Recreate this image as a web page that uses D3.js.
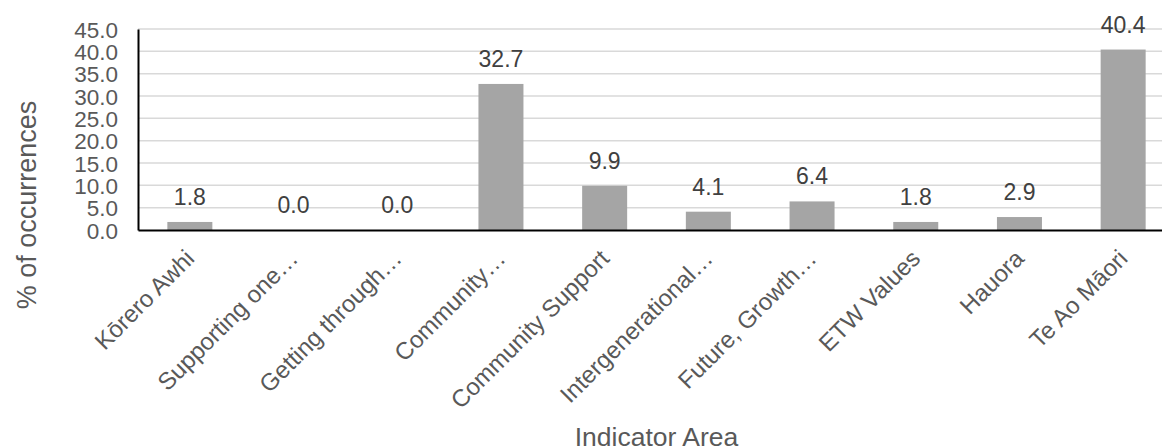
<!DOCTYPE html>
<html>
<head>
<meta charset="utf-8">
<script src="https://cdn.jsdelivr.net/npm/d3@7"></script>
<style>
  html, body { margin: 0; padding: 0; background: #fff; }
  svg { display: block; font-family: "Liberation Sans", Arial, sans-serif; }
</style>
</head>
<body>
<svg id="chart" width="1162" height="448"></svg>
<script>
// Share of occurrences by indicator area
const categories = [
  "Kōrero Awhi",
  "Supporting one…",
  "Getting through…",
  "Community…",
  "Community Support",
  "Intergenerational…",
  "Future, Growth…",
  "ETW Values",
  "Hauora",
  "Te Ao Māori"
];
const values = [1.8, 0.0, 0.0, 32.7, 9.9, 4.1, 6.4, 1.8, 2.9, 40.4];
const yTicks = [0, 5, 10, 15, 20, 25, 30, 35, 40, 45];
const yTitle = "% of occurrences";
const xTitle = "Indicator Area";

const svg = d3.select("#chart");
const plot = { left: 138, right: 1175, top: 29, bottom: 230 };

const x = d3.scaleBand()
  .domain(categories)
  .range([plot.left, plot.right])
  .paddingInner(0.566)
  .paddingOuter(0.283);

const y = d3.scaleLinear()
  .domain([0, 45])
  .range([plot.bottom, plot.top]);

// horizontal gridlines
svg.append("g")
  .selectAll("line")
  .data(yTicks.filter(d => d > 0))
  .join("line")
  .attr("x1", plot.left)
  .attr("x2", plot.right)
  .attr("y1", d => y(d))
  .attr("y2", d => y(d))
  .attr("stroke", "#d9d9d9")
  .attr("stroke-width", 1.5);

// bars
svg.append("g")
  .selectAll("rect")
  .data(values)
  .join("rect")
  .attr("x", (d, i) => x(categories[i]))
  .attr("width", x.bandwidth())
  .attr("y", d => y(d))
  .attr("height", d => y(0) - y(d))
  .attr("fill", "#a5a5a5");

// y axis with one-decimal tick labels
const yAxis = d3.axisLeft(y)
  .tickValues(yTicks)
  .tickFormat(d3.format(".1f"))
  .tickSize(0)
  .tickPadding(20);

const gy = svg.append("g")
  .attr("transform", `translate(${plot.left},0)`)
  .call(yAxis);
gy.select(".domain").attr("stroke", "#000").attr("stroke-width", 2);
gy.selectAll("text")
  .attr("fill", "#595959")
  .style("font-size", "22.5px")
  .attr("dy", "0.36em");

// x axis baseline and rotated category labels
const xAxis = d3.axisBottom(x).tickSize(0).tickFormat(() => "");
const gx = svg.append("g")
  .attr("transform", `translate(0,${plot.bottom})`)
  .call(xAxis);
gx.select(".domain").attr("stroke", "#000").attr("stroke-width", 2);

svg.append("g")
  .selectAll("text")
  .data(categories)
  .join("text")
  .attr("transform", d => `translate(${x(d) + x.bandwidth() / 2 + 6},${plot.bottom + 30}) rotate(-45)`)
  .attr("text-anchor", "end")
  .attr("fill", "#595959")
  .style("font-size", "24px")
  .text(d => d);

// value labels above bars
svg.append("g")
  .selectAll("text")
  .data(values)
  .join("text")
  .attr("x", (d, i) => x(categories[i]) + x.bandwidth() / 2)
  .attr("y", d => y(d) - 17)
  .attr("text-anchor", "middle")
  .attr("fill", "#404040")
  .style("font-size", "23px")
  .text(d => d3.format(".1f")(d));

// axis titles
svg.append("text")
  .attr("transform", `translate(36,205) rotate(-90)`)
  .attr("text-anchor", "middle")
  .attr("fill", "#595959")
  .style("font-size", "27px")
  .text(yTitle);

svg.append("text")
  .attr("x", (plot.left + plot.right) / 2)
  .attr("y", 446)
  .attr("text-anchor", "middle")
  .attr("fill", "#595959")
  .style("font-size", "26.5px")
  .text(xTitle);
</script>
</body>
</html>
